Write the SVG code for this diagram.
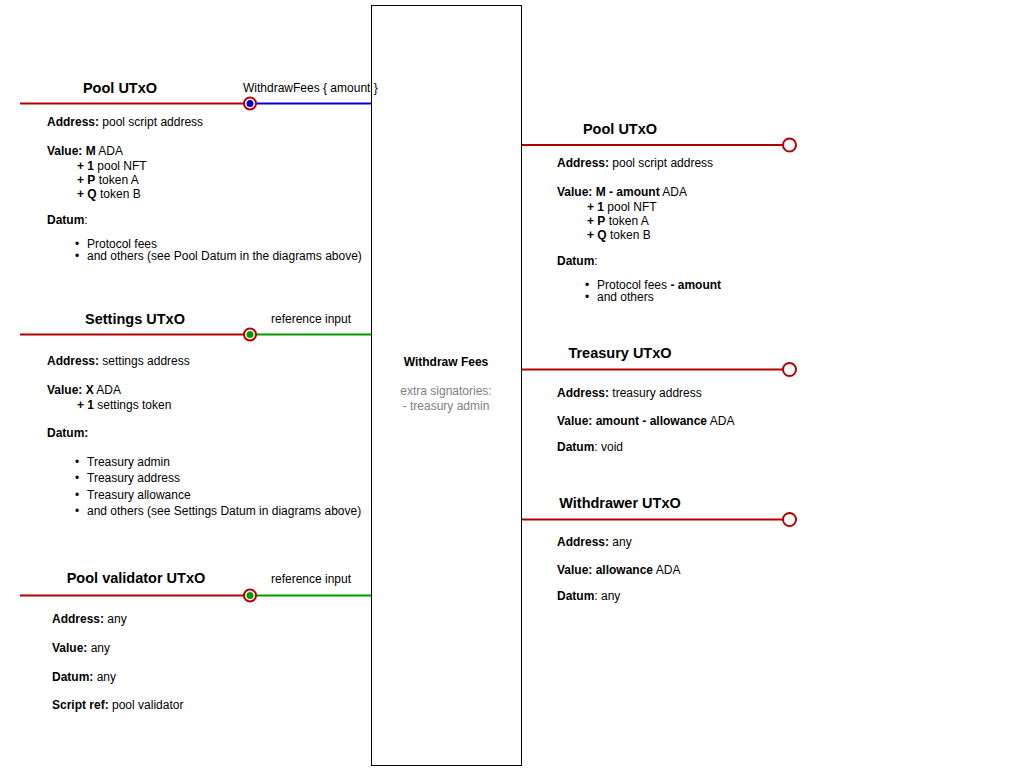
<svg xmlns="http://www.w3.org/2000/svg" width="1030" height="771" viewBox="0 0 1030 771">
<style>
text{font-family:"Liberation Sans",Arial,sans-serif;font-size:12px;fill:#000}
.t{font-size:14.5px;font-weight:bold;text-anchor:middle}
.b{font-weight:bold}
.g{fill:#808080}
.red{stroke:#B20000;stroke-width:2;fill:none}
.blue{stroke:#0000CC;stroke-width:2;fill:none}
.green{stroke:#009900;stroke-width:2;fill:none}
.port{stroke:#B20000;stroke-width:2;fill:#fff}
</style>
<rect width="1030" height="771" fill="#fff"/>
<g id="tx">
<rect x="371.5" y="5.5" width="150" height="760" fill="#fff" stroke="#000" stroke-width="1"/>
<text x="446" y="366" text-anchor="middle" class="b">Withdraw Fees</text>
<text x="446" y="395" text-anchor="middle" class="g">extra signatories:</text>
<text x="446" y="410" text-anchor="middle" class="g">- treasury admin</text>
</g>
<g id="connectors">
<line class="red" x1="20" y1="103.5" x2="244" y2="103.5"/>
<line class="blue" x1="256" y1="103.5" x2="371" y2="103.5"/>
<line class="red" x1="20" y1="334.5" x2="244" y2="334.5"/>
<line class="green" x1="256" y1="334.5" x2="371" y2="334.5"/>
<line class="red" x1="20" y1="595.5" x2="244" y2="595.5"/>
<line class="green" x1="256" y1="595.5" x2="371" y2="595.5"/>
<line class="red" x1="522" y1="145" x2="783" y2="145"/>
<line class="red" x1="522" y1="369.5" x2="783" y2="369.5"/>
<line class="red" x1="522" y1="519.5" x2="783" y2="519.5"/>
<circle class="port" cx="250" cy="103.5" r="6"/>
<circle cx="250" cy="103.5" r="3.5" fill="#0000CC"/>
<circle class="port" cx="250" cy="334.5" r="6"/>
<circle cx="250" cy="334.5" r="3.5" fill="#009900"/>
<circle class="port" cx="250" cy="595.5" r="6"/>
<circle cx="250" cy="595.5" r="3.5" fill="#009900"/>
<circle class="port" cx="789.5" cy="145" r="6.5"/>
<circle class="port" cx="789.5" cy="369.5" r="6.5"/>
<circle class="port" cx="789.5" cy="519.5" r="6.5"/>
<text x="243" y="92">WithdrawFees { amount }</text>
<text x="271" y="323">reference input</text>
<text x="271" y="583">reference input</text>
</g>
<g id="pool-in">
<text x="120" y="93" class="t">Pool UTxO</text>
<text x="47" y="126"><tspan class="b">Address:</tspan> pool script address</text>
<text x="47" y="155"><tspan class="b">Value: M</tspan> ADA</text>
<text x="77" y="170"><tspan class="b">+ 1</tspan> pool NFT</text>
<text x="77" y="184"><tspan class="b">+ P</tspan> token A</text>
<text x="77" y="198"><tspan class="b">+ Q</tspan> token B</text>
<text x="47" y="224"><tspan class="b">Datum</tspan>:</text>
<text x="75" y="248">•</text><text x="87" y="248">Protocol fees</text>
<text x="75" y="260">•</text><text x="87" y="260">and others (see Pool Datum in the diagrams above)</text>
</g>
<g id="settings-in">
<text x="135" y="324" class="t">Settings UTxO</text>
<text x="47" y="365"><tspan class="b">Address:</tspan> settings address</text>
<text x="47" y="394"><tspan class="b">Value: X</tspan> ADA</text>
<text x="77" y="409"><tspan class="b">+ 1</tspan> settings token</text>
<text x="47" y="437" class="b">Datum:</text>
<text x="75" y="466">•</text><text x="87" y="466">Treasury admin</text>
<text x="75" y="482">•</text><text x="87" y="482">Treasury address</text>
<text x="75" y="499">•</text><text x="87" y="499">Treasury allowance</text>
<text x="75" y="515">•</text><text x="87" y="515">and others (see Settings Datum in diagrams above)</text>
</g>
<g id="validator-in">
<text x="136" y="583" class="t">Pool validator UTxO</text>
<text x="52" y="623"><tspan class="b">Address:</tspan> any</text>
<text x="52" y="652"><tspan class="b">Value:</tspan> any</text>
<text x="52" y="681"><tspan class="b">Datum:</tspan> any</text>
<text x="52" y="709"><tspan class="b">Script ref:</tspan> pool validator</text>
</g>
<g id="pool-out">
<text x="620" y="134" class="t">Pool UTxO</text>
<text x="557" y="167"><tspan class="b">Address:</tspan> pool script address</text>
<text x="557" y="196"><tspan class="b">Value: M - amount</tspan> ADA</text>
<text x="587" y="211"><tspan class="b">+ 1</tspan> pool NFT</text>
<text x="587" y="225"><tspan class="b">+ P</tspan> token A</text>
<text x="587" y="239"><tspan class="b">+ Q</tspan> token B</text>
<text x="557" y="265"><tspan class="b">Datum</tspan>:</text>
<text x="585" y="289">•</text><text x="597" y="289">Protocol fees <tspan class="b">- amount</tspan></text>
<text x="585" y="301">•</text><text x="597" y="301">and others</text>
</g>
<g id="treasury-out">
<text x="620" y="358" class="t">Treasury UTxO</text>
<text x="557" y="397"><tspan class="b">Address:</tspan> treasury address</text>
<text x="557" y="425"><tspan class="b">Value: amount - allowance</tspan> ADA</text>
<text x="557" y="451"><tspan class="b">Datum</tspan>: void</text>
</g>
<g id="withdrawer-out">
<text x="620" y="508" class="t">Withdrawer UTxO</text>
<text x="557" y="546"><tspan class="b">Address:</tspan> any</text>
<text x="557" y="574"><tspan class="b">Value: allowance</tspan> ADA</text>
<text x="557" y="600"><tspan class="b">Datum</tspan>: any</text>
</g>
</svg>
